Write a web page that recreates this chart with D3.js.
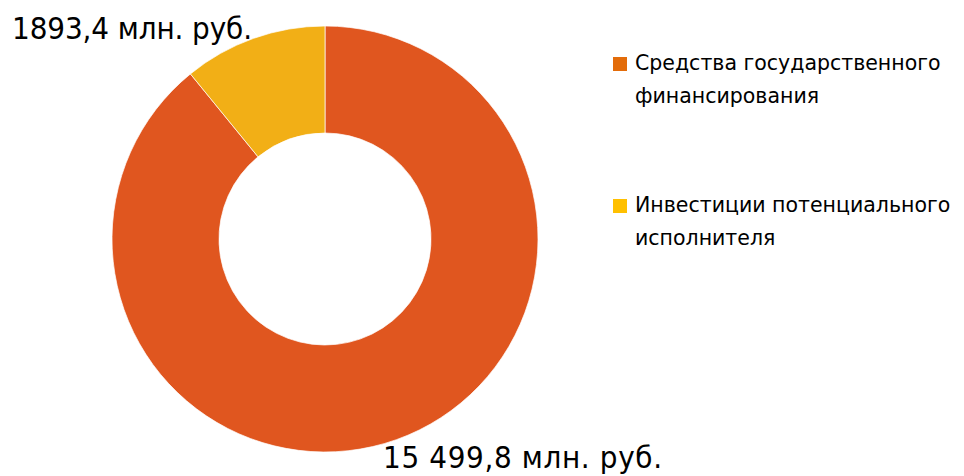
<!DOCTYPE html>
<html><head><meta charset="utf-8">
<script src="https://cdn.jsdelivr.net/npm/d3@7"></script>
<style>body{margin:0;background:#fff}</style>
</head><body>
<svg id="c" width="964" height="476"></svg>
<script>
const categories = ["Средства государственного финансирования", "Инвестиции потенциального исполнителя"];
const legendLines = [["Средства государственного", "финансирования"], ["Инвестиции потенциального", "исполнителя"]];
const values = [15499.8, 1893.4];
const valueLabels = ["15 499,8 млн. руб.", "1893,4 млн. руб."];
const sliceColors = ["#E0561F", "#F2AF16"];
const legendColors = ["#E36C0A", "#FFC000"];

const svg = d3.select("#c");
const cx = 325, cy = 239, R = 213, r = 106;
const pie = d3.pie().sort(null).value(d => d)(values);
const arc = d3.arc().innerRadius(r).outerRadius(R);
const g = svg.append("g").attr("transform", `translate(${cx},${cy})`);
g.selectAll("path").data(pie).join("path")
  .attr("d", arc).attr("fill", (d,i) => sliceColors[i])
  .attr("stroke", "#fff").attr("stroke-width", 0.7);

const labelFont = "'DejaVu Sans Condensed', 'DejaVu Sans', sans-serif";
const legendFont = "'DejaVu Sans', sans-serif";
svg.append("text").attr("x", 383).attr("y", 468).attr("font-family", labelFont)
  .attr("font-size", 31).attr("fill", "#000").attr("textLength", 279).text(valueLabels[0]);
svg.append("text").attr("x", 12).attr("y", 39).attr("font-family", labelFont)
  .attr("font-size", 31).attr("fill", "#000").attr("textLength", 240).text(valueLabels[1]);

const lg = svg.append("g");
const ys = [57, 199];
categories.forEach((c, i) => {
  lg.append("rect").attr("x", 613).attr("y", ys[i]).attr("width", 14).attr("height", 14).attr("fill", legendColors[i]);
  legendLines[i].forEach((ln, j) => {
    lg.append("text").attr("x", 635).attr("y", ys[i] + 13 + j * 33)
      .attr("font-family", legendFont).attr("font-size", 20.5).attr("fill", "#000").text(ln);
  });
});
</script>
</body></html>
